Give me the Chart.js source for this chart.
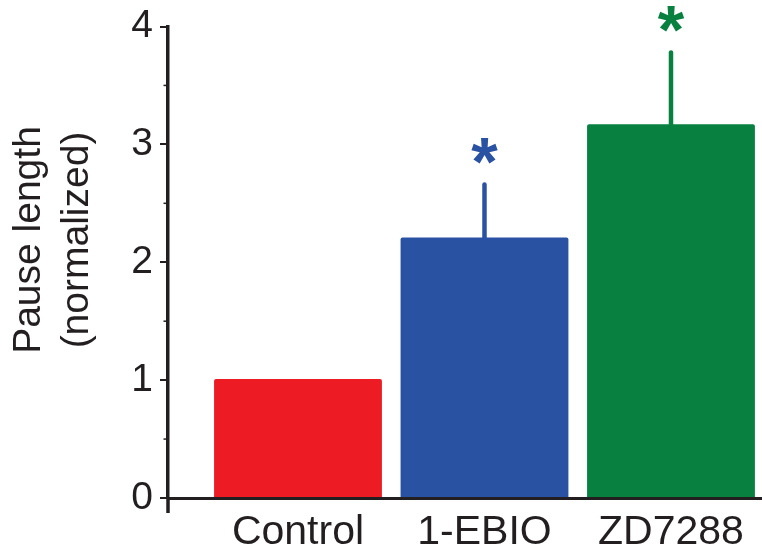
<!DOCTYPE html>
<html><head><meta charset="utf-8">
<script src="https://cdn.jsdelivr.net/npm/chart.js@4.4.0/dist/chart.umd.min.js"></script>
<style>html,body{margin:0;padding:0;background:#fff;} canvas{display:block;}</style>
</head><body>
<canvas id="c" width="762" height="554"></canvas>
<script>
const categories = ['Control', '1-EBIO', 'ZD7288'];
const values = [1.01, 2.21, 3.17];
const errors = [0, 0.45, 0.61];
const significance = ['', '*', '*'];
const barColors = ['#ED1C24', '#2A52A3', '#08803F'];
const yTicks = [0, 1, 2, 3, 4];
const yMinorTicks = [0.5, 1.5, 2.5, 3.5];
const yTitle = ['Pause length', '(normalized)'];

const INK = '#231F20';
const FONT = 'Liberation Sans, Arial, Helvetica, sans-serif';

const decor = {
  id: 'decor',
  afterDatasetsDraw(chart) {
    const ctx = chart.ctx;
    const xs = chart.scales.x, ys = chart.scales.y;
    const ca = chart.chartArea;
    ctx.save();
    // error bars + significance marks
    values.forEach((v, i) => {
      const x = xs.getPixelForValue(i);
      const yTop = ys.getPixelForValue(v);
      const yErr = ys.getPixelForValue(v + errors[i]);
      if (errors[i] > 0) {
        ctx.strokeStyle = barColors[i];
        ctx.lineWidth = 4.5;
        ctx.lineCap = 'round';
        ctx.beginPath();
        ctx.moveTo(x, yTop + 2);
        ctx.lineTo(x, yErr);
        ctx.stroke();
      }
      if (significance[i]) {
        const size = 68;
        ctx.fillStyle = barColors[i];
        ctx.font = 'bold ' + size + 'px ' + FONT;
        ctx.textAlign = 'center';
        ctx.textBaseline = 'alphabetic';
        const cy = yErr - 38;
        ctx.fillText(significance[i], x, cy + 0.57 * size);
      }
    });
    // minor ticks on y axis
    ctx.strokeStyle = INK;
    ctx.lineCap = 'butt';
    ctx.lineWidth = 1.5;
    yMinorTicks.forEach(v => {
      const y = ys.getPixelForValue(v);
      ctx.beginPath();
      ctx.moveTo(ca.left - 4.5, y);
      ctx.lineTo(ca.left, y);
      ctx.stroke();
    });
    // y axis overhang below zero
    ctx.lineWidth = 3.5;
    ctx.beginPath();
    ctx.moveTo(ca.left, ca.bottom);
    ctx.lineTo(ca.left, ca.bottom + 15);
    ctx.stroke();
    // y axis title (two lines, rotated)
    ctx.fillStyle = INK;
    ctx.font = '39px ' + FONT;
    ctx.textAlign = 'center';
    ctx.textBaseline = 'alphabetic';
    const midY = 240;
    yTitle.forEach((line, k) => {
      ctx.save();
      ctx.translate(ca.left - 128 + k * 48, midY);
      ctx.rotate(-Math.PI / 2);
      ctx.fillText(line, 0, 0);
      ctx.restore();
    });
    ctx.restore();
  }
};

new Chart(document.getElementById('c'), {
  type: 'bar',
  data: {
    datasets: [{
      data: categories.map((c, i) => ({ x: i, y: values[i] })),
      backgroundColor: barColors,
      borderWidth: 0,
      borderRadius: 2,
      barPercentage: 0.9,
      categoryPercentage: 1
    }]
  },
  options: {
    responsive: false,
    devicePixelRatio: 1,
    animation: false,
    layout: { padding: { top: 22, left: 0, right: 0, bottom: 0 } },
    plugins: { legend: { display: false }, tooltip: { enabled: false } },
    scales: {
      x: {
        type: 'linear',
        offset: false,
        min: -0.697,
        max: 2.488,
        afterFit(scale) { scale.height = 56; },
        grid: { display: false, drawTicks: false, offset: false },
        border: { display: true, color: INK, width: 3, z: 1 },
        ticks: {
          stepSize: 1,
          includeBounds: false,
          autoSkip: false,
          maxRotation: 0,
          padding: 10,
          color: INK,
          font: { family: FONT, size: 41 },
          callback: (v) => (Number.isInteger(v) && categories[v] !== undefined) ? categories[v] : ''
        }
      },
      y: {
        min: yTicks[0],
        max: yTicks[yTicks.length - 1],
        afterFit(scale) { scale.width = 168; },
        grid: { display: true, drawOnChartArea: false, drawTicks: true, tickLength: 8, lineWidth: 2, color: INK },
        border: { display: true, color: INK, width: 3.5 },
        ticks: {
          stepSize: 1,
          padding: 7,
          color: INK,
          font: { family: FONT, size: 39, lineHeight: 1.0 },
          callback: (v) => yTicks.includes(v) ? String(v) : ''
        }
      }
    }
  },
  plugins: [decor]
});
</script>
</body></html>
